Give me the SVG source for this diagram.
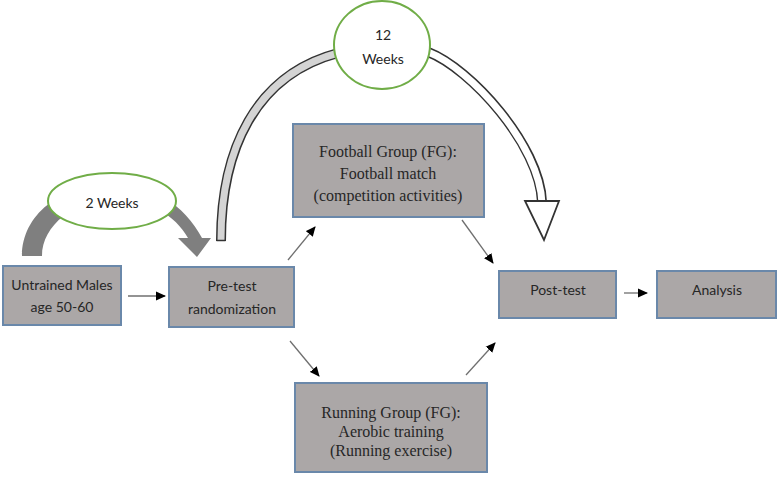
<svg xmlns="http://www.w3.org/2000/svg" width="778" height="477" viewBox="0 0 778 477">
<style>
.box{fill:#aba7a7;stroke:#6a88aa;stroke-width:2}
.sans{font-family:Lato,"Open Sans","Liberation Sans",sans-serif;font-size:14px;fill:#262626;text-anchor:middle}
.serif{font-family:"Liberation Serif","DejaVu Serif",serif;font-size:16px;fill:#262626;text-anchor:middle}
.conn{stroke:#6f6f6f;stroke-width:1.3;fill:none;marker-end:url(#ah)}
.oval{fill:#fff;stroke:#70ad47;stroke-width:2}
</style>
<defs>
<marker id="ah" markerWidth="10" markerHeight="10" refX="9" refY="5" orient="auto" markerUnits="userSpaceOnUse">
<path d="M0,0.5 L10,5 L0,9.5 Z" fill="#000"/>
</marker>
</defs>
<rect width="778" height="477" fill="#fff"/>
<g id="arrow-2weeks">
<path d="M22,256 C22,215 60,185 112,183 C150,183 185,205 202,238 L211,238 L197,257 L178,238 L188,238 C175,215 150,200 112,200 C75,200 42,225 42,256 Z" fill="#7f7f7f"/>
</g>
<g id="arrow-12weeks">
<path d="M221,241 C221,150 255,75 338,53" fill="none" stroke="#333" stroke-width="10"/>
<path d="M221,240 C221,150 255,75 338,53" fill="none" stroke="#d4d4d4" stroke-width="7"/>
<path d="M216.5,240.5 L225.5,240.5" stroke="#333" stroke-width="1.5"/>
<path d="M428,52 C470,68 540,145 542,202" fill="none" stroke="#333" stroke-width="10"/>
<path d="M428,52 C470,68 540,145 542,203" fill="none" stroke="#fff" stroke-width="7"/>
<polygon points="525,201 559,201 544,240" fill="#fff" stroke="#333" stroke-width="1.8" stroke-linejoin="miter"/>
</g>
<g id="oval-2weeks">
<ellipse class="oval" cx="112" cy="201" rx="64" ry="28"/>
<text class="sans" x="112" y="208">2 Weeks</text>
</g>
<g id="oval-12weeks">
<ellipse class="oval" cx="382" cy="45" rx="48" ry="44"/>
<text class="sans" x="383" y="40">12</text>
<text class="sans" x="383" y="64">Weeks</text>
</g>
<g id="connectors">
<path class="conn" d="M128,296 L165,296"/>
<path class="conn" d="M288,260 L315,227"/>
<path class="conn" d="M462,220 L493,263"/>
<path class="conn" d="M290,341 L319,376"/>
<path class="conn" d="M466,375 L495,343"/>
<path class="conn" d="M624,293 L647,293"/>
</g>
<g id="node-untrained">
<rect class="box" x="3" y="266" width="118" height="59"/>
<text class="sans" x="62" y="290">Untrained Males</text>
<text class="sans" x="62" y="312">age 50-60</text>
</g>
<g id="node-pretest">
<rect class="box" x="169" y="267" width="125" height="60"/>
<text class="sans" x="232" y="291">Pre-test</text>
<text class="sans" x="232" y="314">randomization</text>
</g>
<g id="node-football">
<rect class="box" x="293" y="124" width="191" height="93"/>
<text class="serif" x="388" y="157">Football Group (FG):</text>
<text class="serif" x="388" y="179">Football match</text>
<text class="serif" x="388" y="201">(competition activities)</text>
</g>
<g id="node-running">
<rect class="box" x="295" y="383" width="192" height="89"/>
<text class="serif" x="391" y="418">Running Group (FG):</text>
<text class="serif" x="391" y="437">Aerobic training</text>
<text class="serif" x="391" y="456">(Running exercise)</text>
</g>
<g id="node-posttest">
<rect class="box" x="499" y="271" width="117" height="47"/>
<text class="sans" x="558" y="295">Post-test</text>
</g>
<g id="node-analysis">
<rect class="box" x="657" y="271" width="119" height="47"/>
<text class="sans" x="717" y="295">Analysis</text>
</g>
</svg>
